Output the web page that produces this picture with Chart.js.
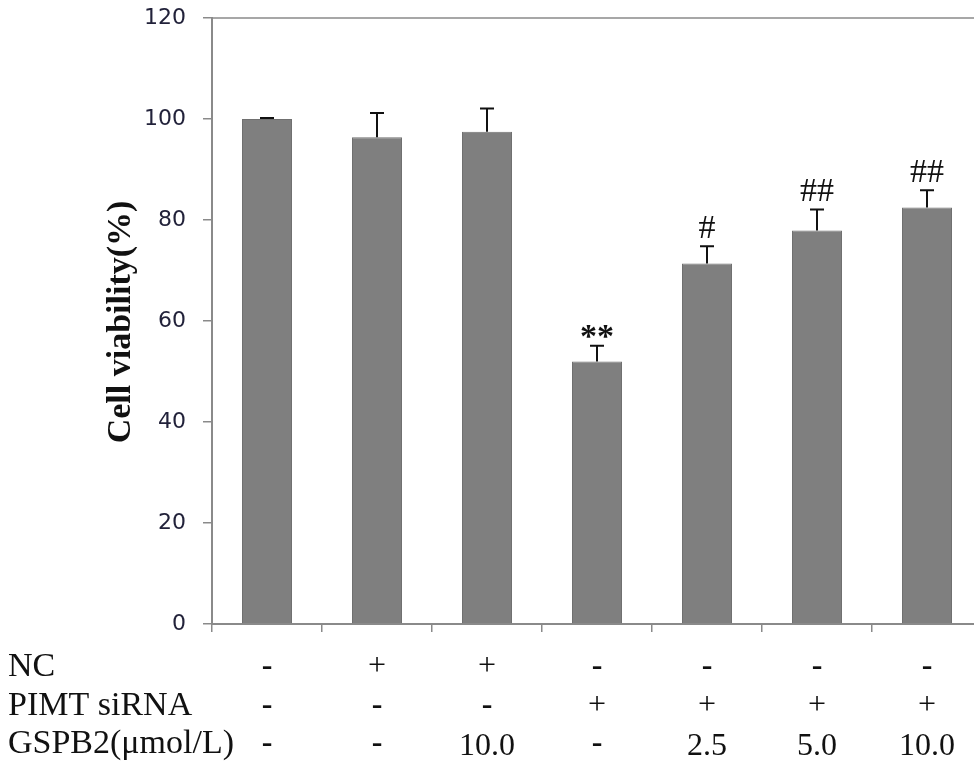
<!DOCTYPE html>
<html>
<head>
<meta charset="utf-8">
<script src="https://cdn.jsdelivr.net/npm/chart.js@4/dist/chart.umd.min.js"></script>
<style>
  html, body { margin: 0; padding: 0; background: #fff; overflow: hidden; }
  #wrap { width: 990px; height: 765px; }
</style>
</head>
<body>
<div id="wrap"><canvas id="cv" width="990" height="765"></canvas></div>
<script>
/* ── data ── */
const groups     = ['G1', 'G2', 'G3', 'G4', 'G5', 'G6', 'G7'];
const viability  = [100, 96.4, 97.5, 52.0, 71.4, 77.9, 82.5];
const errUp      = [0.2, 4.8, 4.6, 3.1, 3.4, 4.2, 3.4];
const marks      = ['', '', '', '**', '#', '##', '##'];
const rowLabels  = ['NC', 'PIMT siRNA', 'GSPB2(\u03bcmol/L)'];
const rowNC      = ['-', '+', '+', '-', '-', '-', '-'];
const rowSiRNA   = ['-', '-', '-', '+', '+', '+', '+'];
const rowGSPB2   = ['-', '-', '10.0', '-', '2.5', '5.0', '10.0'];
const yTicks     = [0, 20, 40, 60, 80, 100, 120];

const SERIF = '"Liberation Serif", "Times New Roman", serif';
const AXIS  = '#8a8a8a';

/* ── 오차막대 + 유의표시 + 표 ── */
const extras = {
  id: 'extras',
  afterDatasetsDraw(chart) {
    const ctx = chart.ctx;
    const y = chart.scales.y;
    const x = chart.scales.x;
    const area = chart.chartArea;
    const bars = chart.getDatasetMeta(0).data;

    // top border
    ctx.save();
    ctx.strokeStyle = AXIS;
    ctx.lineWidth = 1.5;
    ctx.beginPath();
    ctx.moveTo(area.left, y.getPixelForValue(120));
    ctx.lineTo(area.right, y.getPixelForValue(120));
    ctx.stroke();

    // error bars (upper only)
    ctx.strokeStyle = '#111';
    ctx.lineWidth = 2;
    bars.forEach((b, i) => {
      const top = y.getPixelForValue(viability[i] + errUp[i]);
      const base = y.getPixelForValue(viability[i]);
      ctx.beginPath();
      ctx.moveTo(b.x, base);
      ctx.lineTo(b.x, top);
      ctx.moveTo(b.x - 7, top);
      ctx.lineTo(b.x + 7, top);
      ctx.stroke();
    });

    // significance marks
    ctx.fillStyle = '#111';
    ctx.textAlign = 'center';
    ctx.textBaseline = 'alphabetic';
    bars.forEach((b, i) => {
      if (!marks[i]) return;
      const top = y.getPixelForValue(viability[i] + errUp[i]);
      if (marks[i].indexOf('*') >= 0) {
        ctx.font = 'bold 34px ' + SERIF;
        ctx.fillText(marks[i], b.x, top + 1);
      } else {
        ctx.font = '34px ' + SERIF;
        ctx.fillText(marks[i], b.x, top - 8);
      }
    });

    // y title
    ctx.save();
    ctx.translate(121, 322);
    ctx.rotate(-Math.PI / 2);
    ctx.font = 'bold 34px ' + SERIF;
    ctx.textBaseline = 'middle';
    ctx.fillText('Cell viability(%)', 0, 0);
    ctx.restore();

    // treatment table
    const rows = [rowNC, rowSiRNA, rowGSPB2];
    const rowY = [667, 706, 744];
    ctx.textBaseline = 'middle';
    rows.forEach((row, r) => {
      ctx.textAlign = 'left';
      ctx.font = '34px ' + SERIF;
      ctx.fillText(rowLabels[r], 8, rowY[r]);
      ctx.textAlign = 'center';
      row.forEach((t, i) => {
        const px = x.getPixelForValue(i);
        ctx.font = (t === '-' ? 'bold 32px ' : '32px ') + SERIF;
        ctx.fillText(t, px, rowY[r] + (t.length > 1 ? 3 : 0));
      });
    });
    ctx.restore();
  }
};

new Chart(document.getElementById('cv'), {
  type: 'bar',
  data: {
    labels: groups,
    datasets: [{
      data: viability,
      backgroundColor: '#7f7f7f',
      borderColor: '#707070',
      borderWidth: 1,
      categoryPercentage: 1,
      barPercentage: 0.455,
    }],
  },
  options: {
    responsive: false,
    animation: false,
    devicePixelRatio: 1,
    layout: { padding: { top: 18, right: 8, left: 0, bottom: 0 } },
    plugins: { legend: { display: false }, tooltip: { enabled: false } },
    scales: {
      x: {
        ticks: { display: false },
        grid: { drawOnChartArea: false, tickLength: 8, color: AXIS, lineWidth: 1.5 },
        border: { color: AXIS, width: 2 },
        afterFit: s => { s.height = 141; s.paddingLeft = 0; s.paddingRight = 0; },
      },
      y: {
        min: 0, max: 120,
        afterBuildTicks: s => { s.ticks = yTicks.map(v => ({ value: v })); },
        ticks: {
          padding: 17,
          color: '#22223a',
          font: { family: '"DejaVu Sans", Verdana, sans-serif', size: 22 },
        },
        grid: { drawOnChartArea: false, tickLength: 9, color: AXIS, lineWidth: 1.5 },
        border: { color: AXIS, width: 2 },
        afterFit: s => { s.width = 212; s.paddingTop = 0; s.paddingBottom = 0; },
      },
    },
  },
  plugins: [extras],
});
</script>
</body>
</html>
